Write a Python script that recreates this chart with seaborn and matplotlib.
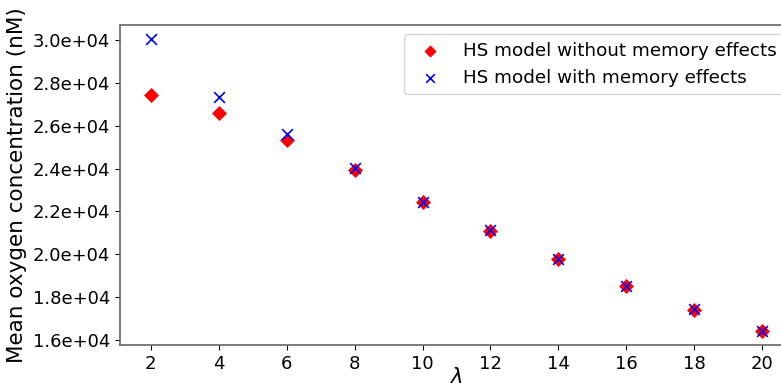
import seaborn as sns
import matplotlib.pyplot as plt
from matplotlib.ticker import FormatStrFormatter

lam = [2, 4, 6, 8, 10, 12, 14, 16, 18, 20]
without_memory = [27420, 26590, 25330, 23920, 22440, 21110, 19770, 18530, 17420, 16410]
with_memory = [30040, 27330, 25600, 24030, 22460, 21120, 19780, 18540, 17430, 16420]

sns.set_style("ticks")
plt.rcParams["font.family"] = ["DejaVu Sans"]
plt.rcParams["text.color"] = "black"
plt.rcParams["axes.labelcolor"] = "black"
plt.rcParams["xtick.color"] = "black"
plt.rcParams["ytick.color"] = "black"

fig = plt.figure(figsize=(7.81, 3.90), dpi=100)
ax = fig.add_axes([120 / 781, 45 / 390, 673 / 781, 320 / 390])

sns.scatterplot(x=lam, y=without_memory, marker="D", color="red", s=50,
                edgecolor="red", label="HS model without memory effects", ax=ax)
sns.scatterplot(x=lam, y=with_memory, marker="x", color="blue", s=60,
                linewidth=1.2, label="HS model with memory effects", ax=ax)

ax.set_xlim(1.1, 20.9)
ax.set_ylim(15767, 30700)
ax.set_xticks(lam)
ax.set_yticks(range(16000, 30001, 2000))
ax.yaxis.set_major_formatter(FormatStrFormatter("%.1e"))
ax.tick_params(labelsize=13)
ax.set_xlabel(r"$\lambda$", fontsize=15, labelpad=-4)
ax.set_ylabel("Mean oxygen concentration (nM)", fontsize=15.5)
for s in ax.spines.values():
    s.set_color("0.4")
    s.set_linewidth(1.2)

ax.legend(loc="upper right", fontsize=13.2, markerscale=0.8)

fig.savefig("out.png", dpi=100)
